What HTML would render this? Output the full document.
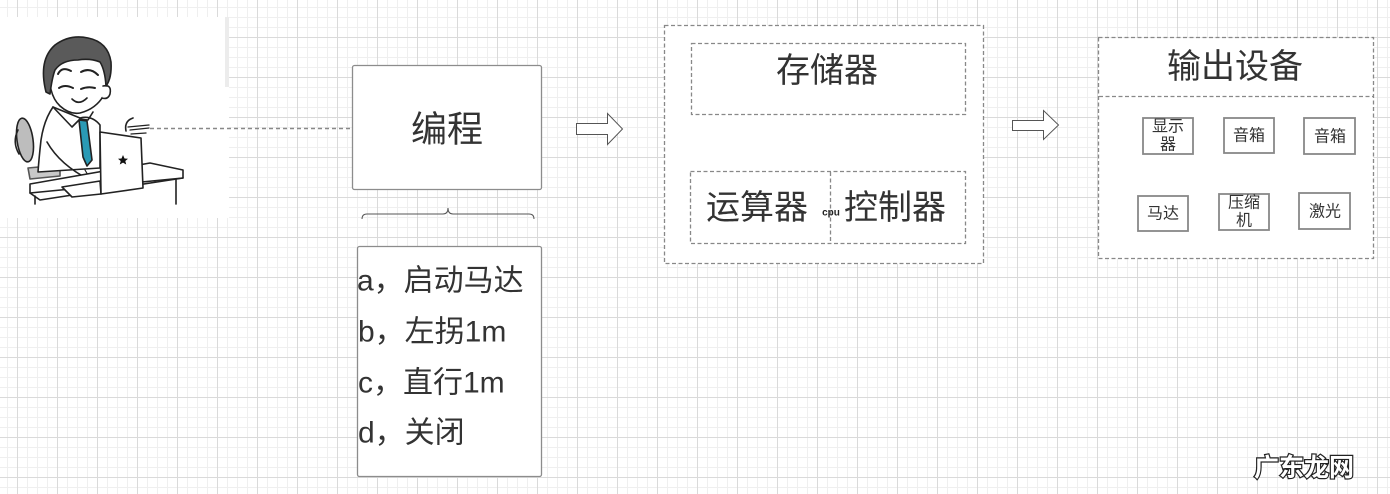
<!DOCTYPE html>
<html>
<head>
<meta charset="utf-8">
<style>
  html, body { margin: 0; padding: 0; }
  body {
    width: 1390px; height: 494px; overflow: hidden; position: relative;
    background-color: #ffffff;
    background-image:
      linear-gradient(to right, #dadada 1px, transparent 1px),
      linear-gradient(to bottom, #dadada 1px, transparent 1px),
      linear-gradient(to right, #efefef 1px, transparent 1px),
      linear-gradient(to bottom, #efefef 1px, transparent 1px);
    background-size: 40px 40px, 40px 40px, 10px 10px, 10px 10px;
    background-position: 17px 37px, 17px 37px, 7px 7px, 7px 7px;
    font-family: "Liberation Sans", "Noto Sans CJK SC", sans-serif;
  }
  svg { position: absolute; left: 0; top: 0; }
  .t { font-family: "Liberation Sans", "Noto Sans CJK SC", sans-serif; fill: #333; }
</style>
</head>
<body>
<svg width="1390" height="494" viewBox="0 0 1390 494" xmlns="http://www.w3.org/2000/svg">
  <!-- image white area -->
  <rect x="0" y="17" width="229" height="201" fill="#ffffff"/>
  <rect x="225" y="17" width="4" height="70" fill="#ececec"/>

  <!-- dashed connector -->
  <line x1="150" y1="128.5" x2="350" y2="128.5" stroke="#888" stroke-width="1.5" stroke-dasharray="4 3"/>

  <!-- cartoon man -->
  <g stroke="#222" stroke-width="1.6" stroke-linejoin="round" stroke-linecap="round">
    <!-- chair back -->
    <ellipse cx="25" cy="140" rx="8" ry="22" fill="#bdbdbd" transform="rotate(-8 25 140)"/>
    <path d="M18,130 Q12,142 19,154" fill="none"/>
    <!-- chair seat -->
    <path d="M28,168 L60,165 L60,176 L30,179 Z" fill="#c8c8c8" stroke="#555"/>
    <!-- body -->
    <path d="M53,107 Q44,120 41,140 Q39,158 38,172 L100,168 L100,125 Q92,115 80,118 Z" fill="#fff"/>
    <!-- collar -->
    <path d="M53,107 L72,127 L80,119 L88,120 L93,112" fill="none"/>
    <!-- tie -->
    <path d="M79,120 L87,121 L92,160 L87,166 L83,157 Z" fill="#2a9ab5"/>
    <!-- arm -->
    <path d="M47,142 Q60,165 90,180" fill="none"/>
    <path d="M85,170 L92,182 L84,188" fill="none" stroke-width="1.2"/>
    <!-- head / face -->
    <path d="M50,64 Q47,94 60,106 Q70,115 80,113 Q96,109 104,95 Q110,78 107,62 Q95,48 78,48 Q58,50 50,64 Z" fill="#fff"/>
    <!-- ear -->
    <path d="M103,86 Q112,84 110,94 Q108,100 102,98" fill="#fff"/>
    <!-- hair -->
    <path d="M46,92 Q38,60 55,45 Q70,34 88,38 Q108,42 111,62 Q112,78 106,86 Q105,70 100,62 Q90,58 78,60 Q62,60 55,70 Q52,78 50,94 Z" fill="#5a5a5a"/>
    <!-- eyebrows -->
    <path d="M58,74 Q62,66 71,71" fill="none" stroke-width="2"/>
    <path d="M81,72 Q90,67 98,75" fill="none" stroke-width="2"/>
    <!-- eyes -->
    <path d="M59,88 Q65,84 73,88" fill="none" stroke-width="2"/>
    <path d="M81,89 Q88,86 95,88" fill="none" stroke-width="2"/>
    <!-- mouth -->
    <path d="M72,99 Q79,106 87,98" fill="#fff" stroke-width="1.6"/>
    <!-- hand -->
    <path d="M126,131 Q124,121 133,118" fill="none"/>
    <path d="M128,127 L149,125" fill="none" stroke-width="1.3"/>
    <path d="M130,130 L149,128" fill="none" stroke-width="1.3"/>
    <path d="M131,134 L146,133" fill="none" stroke-width="1.3"/>
    <!-- desk -->
    <path d="M30,184 L150,163 L183,170 L183,178 L40,200 L30,193 Z" fill="#fff"/>
    <path d="M30,193 L183,178" fill="none"/>
    <line x1="35" y1="196" x2="35" y2="204"/>
    <line x1="176" y1="179" x2="176" y2="204"/>
    <!-- laptop base -->
    <path d="M62,187 L100,181 L101,194 L72,197 Z" fill="#fff"/>
    <!-- laptop screen -->
    <path d="M100,132 L141,138 L143,188 L101,194 Z" fill="#fff"/>
    <!-- star -->
    <path d="M123,155 L124.5,158.5 L128,158.8 L125.3,161 L126.2,164.5 L123,162.6 L119.8,164.5 L120.7,161 L118,158.8 L121.5,158.5 Z" fill="#111" stroke="none"/>
  </g>

  <!-- 编程 box -->
  <rect x="352.5" y="65.5" width="189" height="124" rx="2" fill="#fff" stroke="#8c8c8c" stroke-width="1.3"/>
  <text class="t" x="447" y="129" font-size="36" text-anchor="middle" dominant-baseline="central">编程</text>

  <!-- brace -->
  <path d="M362,219 Q362,214 367,214 L443,214 Q448,214 448,208 Q448,214 453,214 L529,214 Q534,214 534,219" fill="none" stroke="#555" stroke-width="1"/>

  <!-- list box -->
  <rect x="357.5" y="246.5" width="184" height="230" rx="2" fill="#fff" stroke="#8c8c8c" stroke-width="1.3"/>
  <text class="t" x="357" y="281" font-size="30" dominant-baseline="central">a，启动马达</text>
  <text class="t" x="358" y="332" font-size="30" dominant-baseline="central">b，左拐1m</text>
  <text class="t" x="358" y="383" font-size="30" dominant-baseline="central">c，直行1m</text>
  <text class="t" x="358" y="433" font-size="30" dominant-baseline="central">d，关闭</text>

  <!-- arrow 1 -->
  <path d="M576.5,123.5 L607.5,123.5 L607.5,113.5 L622.5,129 L607.5,144.5 L607.5,134.5 L576.5,134.5 Z" fill="#fff" stroke="#555" stroke-width="1"/>

  <!-- CPU area -->
  <rect x="664.5" y="25.5" width="319" height="238" fill="#fff" stroke="#888" stroke-width="1.3" stroke-dasharray="4 2.5"/>
  <rect x="691.5" y="43.5" width="274" height="71" fill="#fff" stroke="#888" stroke-width="1.3" stroke-dasharray="4 2.5"/>
  <text class="t" x="827" y="71" font-size="34" text-anchor="middle" dominant-baseline="central">存储器</text>
  <rect x="690.5" y="171.5" width="275" height="72" fill="#fff" stroke="#888" stroke-width="1.3" stroke-dasharray="4 2.5"/>
  <line x1="830.5" y1="172" x2="830.5" y2="243" stroke="#888" stroke-width="1.3" stroke-dasharray="4 2.5"/>
  <text class="t" x="757" y="208" font-size="34" text-anchor="middle" dominant-baseline="central">运算器</text>
  <text class="t" x="831" y="213" font-size="10" font-weight="bold" text-anchor="middle" dominant-baseline="central" style="fill:#222">cpu</text>
  <text class="t" x="895" y="208" font-size="34" text-anchor="middle" dominant-baseline="central">控制器</text>

  <!-- arrow 2 -->
  <path d="M1012.5,120.5 L1043.5,120.5 L1043.5,110.5 L1058.5,125 L1043.5,139.5 L1043.5,130.5 L1012.5,130.5 Z" fill="#fff" stroke="#555" stroke-width="1"/>

  <!-- Output devices -->
  <rect x="1098.5" y="37.5" width="275" height="221" fill="#fff" stroke="#888" stroke-width="1.3" stroke-dasharray="4 2.5"/>
  <line x1="1099" y1="96.5" x2="1373" y2="96.5" stroke="#888" stroke-width="1.3" stroke-dasharray="4 2.5"/>
  <text class="t" x="1235" y="67" font-size="34" text-anchor="middle" dominant-baseline="central">输出设备</text>

  <g fill="#fff" stroke="#888" stroke-width="1.8">
    <rect x="1143" y="118" width="50" height="36"/>
    <rect x="1224" y="118" width="50" height="35"/>
    <rect x="1304" y="118" width="51" height="36"/>
    <rect x="1138" y="196" width="50" height="35"/>
    <rect x="1219" y="194" width="50" height="36"/>
    <rect x="1299" y="193" width="51" height="36"/>
  </g>
  <g class="t" font-size="16" text-anchor="middle" dominant-baseline="central">
    <text class="t" x="1168" y="127">显示</text>
    <text class="t" x="1168" y="145">器</text>
    <text class="t" x="1249" y="136">音箱</text>
    <text class="t" x="1330" y="137">音箱</text>
    <text class="t" x="1163" y="214">马达</text>
    <text class="t" x="1244" y="203">压缩</text>
    <text class="t" x="1244" y="221">机</text>
    <text class="t" x="1325" y="212">激光</text>
  </g>

  <!-- watermark -->
  <text x="1304" y="466" font-size="25" font-weight="bold" text-anchor="middle" dominant-baseline="central"
        style="font-family:'Noto Sans CJK SC','WenQuanYi Zen Hei',sans-serif; fill:#fff; stroke:#222; stroke-width:2.4; paint-order:stroke;">广东龙网</text>
</svg>
</body>
</html>
